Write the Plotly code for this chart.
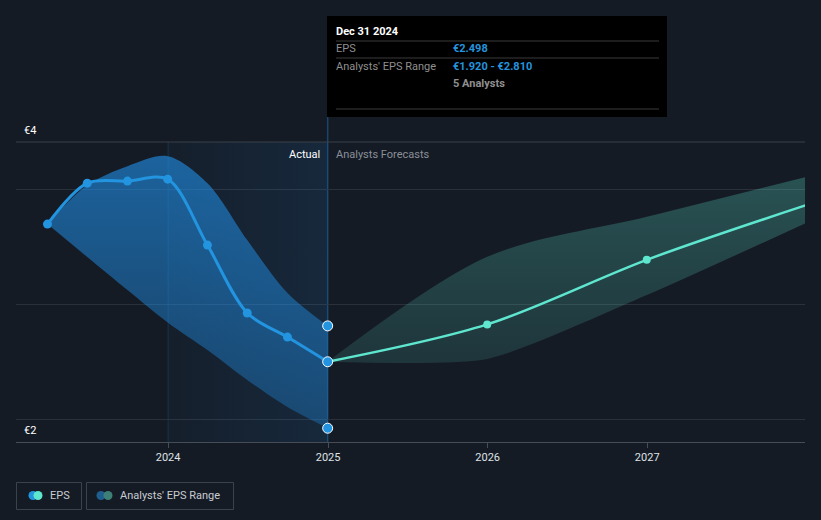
import plotly.graph_objects as go

# ---------------- data ----------------
actual_dates = ["2023-03-31", "2023-06-30", "2023-09-30", "2023-12-31",
                "2024-03-31", "2024-06-30", "2024-09-30", "2024-12-31"]
actual_eps = [3.696, 4.052, 4.070, 4.087, 3.513, 2.922, 2.713, 2.498]
past_range_high = [3.696, 4.035, 4.200, 4.287, 4.052, 3.557, 3.096, 2.810]
past_range_low = [3.696, 3.409, 3.122, 2.840, 2.600, 2.339, 2.104, 1.920]

forecast_dates = ["2024-12-31", "2025-12-31", "2026-12-31", "2027-12-31"]
forecast_eps = [2.498, 2.823, 3.385, 3.861]
forecast_high = [2.498, 3.411, 3.759, 4.107]
forecast_low = [2.498, 2.522, 3.078, 3.707]

n_analysts = 5
tooltip_date = "Dec 31 2024"
tick_years = ["2024-01-01", "2025-01-01", "2026-01-01", "2027-01-01"]
grid_values = [2, 3, 4]
y_label_top = "€4"
y_label_bottom = "€2"

# ---------------- style ----------------
W, H = 821, 520
BG = "#151b25"
BLUE = "#2394DF"
TEAL = "#5EE6CF"
FONT = "Roboto"
Y_RANGE = [1.8, 4.41]
X_RANGE = ["2023-01-18", "2027-12-28"]


def px(x):
    return x / W


def py(y):
    return 1 - y / H


fig = go.Figure()

# highlight of the last twelve months of actuals
hl_start = "2024-01-01"
hl_end = actual_dates[-1]
fig.add_trace(go.Scatter(
    x=[hl_start, hl_end, hl_end, hl_start, hl_start],
    y=[Y_RANGE[0], Y_RANGE[0], Y_RANGE[1], Y_RANGE[1], Y_RANGE[0]],
    mode="lines", line=dict(width=0), fill="toself",
    fillgradient=dict(type="horizontal",
                      colorscale=[[0, "rgba(33,150,243,0.03)"], [1, "rgba(33,150,243,0.11)"]]),
    hoverinfo="skip", showlegend=False))

# past analyst range band
fig.add_trace(go.Scatter(x=actual_dates, y=past_range_low, mode="lines",
                         line=dict(width=0, shape="spline", smoothing=0.8),
                         hoverinfo="skip", showlegend=False))
fig.add_trace(go.Scatter(x=actual_dates, y=past_range_high, mode="lines",
                         line=dict(width=0, shape="spline", smoothing=0.9),
                         fill="tonexty",
                         fillgradient=dict(type="vertical",
                                           colorscale=[[0, "rgba(33,150,243,0.30)"],
                                                       [1, "rgba(33,150,243,0.58)"]]),
                         hoverinfo="skip", showlegend=False))

# forecast range band
fig.add_trace(go.Scatter(x=forecast_dates, y=forecast_low, mode="lines",
                         line=dict(width=0, shape="spline", smoothing=0.6),
                         hoverinfo="skip", showlegend=False))
fig.add_trace(go.Scatter(x=forecast_dates, y=forecast_high, mode="lines",
                         line=dict(width=0, shape="spline", smoothing=0.9),
                         fill="tonexty",
                         fillgradient=dict(type="vertical",
                                           colorscale=[[0, "rgba(94,230,207,0.13)"],
                                                       [1, "rgba(94,230,207,0.27)"]]),
                         hoverinfo="skip", showlegend=False))

# EPS lines
fig.add_trace(go.Scatter(x=forecast_dates, y=forecast_eps, mode="lines+markers",
                         line=dict(color=TEAL, width=2.5, shape="spline", smoothing=0.9),
                         marker=dict(color=TEAL, size=8),
                         hoverinfo="skip", showlegend=False))
fig.add_trace(go.Scatter(x=actual_dates, y=actual_eps, mode="lines+markers",
                         line=dict(color=BLUE, width=3, shape="spline", smoothing=0.9),
                         marker=dict(color=BLUE, size=9),
                         hoverinfo="skip", showlegend=False))

# hover markers at last actual date
fig.add_trace(go.Scatter(x=[actual_dates[-1]] * 3,
                         y=[actual_eps[-1], past_range_high[-1], past_range_low[-1]],
                         mode="markers",
                         marker=dict(color=BLUE, size=10, line=dict(color="#ffffff", width=1)),
                         hoverinfo="skip", showlegend=False, cliponaxis=False))

shapes = []
# top border line of the plot
shapes.append(dict(type="line", xref="paper", yref="paper", x0=px(16), x1=px(805),
                   y0=py(142), y1=py(142), line=dict(color="#3b414b", width=1)))
# vertical line at start of highlight
shapes.append(dict(type="line", xref="x", yref="paper", x0=hl_start, x1=hl_start,
                   y0=py(442), y1=py(142), line=dict(color="rgba(33,150,243,0.18)", width=1),
                   layer="below"))
# hover line
shapes.append(dict(type="line", xref="x", yref="paper", x0=hl_end, x1=hl_end,
                   y0=py(442), y1=py(117), line=dict(color="rgba(33,150,243,0.35)", width=1.5),
                   layer="below"))
# tooltip box
shapes.append(dict(type="rect", xref="paper", yref="paper", x0=px(327), x1=px(667),
                   y0=py(117), y1=py(16), fillcolor="#000000", line=dict(width=0)))
for yy in (41, 58, 109):
    shapes.append(dict(type="line", xref="paper", yref="paper", x0=px(336), x1=px(659),
                       y0=py(yy), y1=py(yy), line=dict(color="#3a3a3a", width=1)))
# legend boxes
shapes.append(dict(type="rect", xref="paper", yref="paper", x0=px(16.5), x1=px(81.5),
                   y0=py(509.5), y1=py(482.5), line=dict(color="#3c424c", width=1),
                   fillcolor="rgba(0,0,0,0)"))
shapes.append(dict(type="rect", xref="paper", yref="paper", x0=px(86.5), x1=px(233.5),
                   y0=py(509.5), y1=py(482.5), line=dict(color="#3c424c", width=1),
                   fillcolor="rgba(0,0,0,0)"))
for cx, col in ((33, BLUE), (38, TEAL), (101, "#1f5f8f"), (108, "#3e7f78")):
    shapes.append(dict(type="circle", xref="paper", yref="paper",
                       x0=px(cx - 4.5), x1=px(cx + 4.5), y0=py(500), y1=py(491),
                       fillcolor=col, line=dict(width=0)))

ann = []


def text(x, y, s, color, size=11, anchor="left", bold=False):
    # compensate the 2px annotation padding
    xx = x - 2 if anchor == "left" else x + 2
    ann.append(dict(xref="paper", yref="paper", x=px(xx), y=py(y), text=f"<b>{s}</b>" if bold else s,
                    showarrow=False, xanchor=anchor, yanchor="middle",
                    font=dict(family=FONT, size=size, color=color)))


text(24, 130, y_label_top, "#ffffff")
text(24, 430, y_label_bottom, "#ffffff")
text(320, 154, "Actual", "#ffffff", anchor="right")
text(336, 154, "Analysts Forecasts", "#8a8f98")
text(336, 31, tooltip_date, "#ffffff", bold=True)
text(336, 48, "EPS", "#8f8f8f")
text(453, 48, f"€{actual_eps[-1]:.3f}", BLUE, bold=True)
text(336, 66, "Analysts' EPS Range", "#8f8f8f")
text(453, 66, f"€{past_range_low[-1]:.3f} - €{past_range_high[-1]:.3f}", BLUE, bold=True)
text(453, 83, f"{n_analysts} Analysts", "#8f8f8f", bold=True)
text(50, 495, "EPS", "#c8ccd2")
text(120, 495, "Analysts' EPS Range", "#c8ccd2")

fig.update_layout(
    width=W, height=H, autosize=False,
    margin=dict(l=0, r=0, t=0, b=0),
    paper_bgcolor=BG, plot_bgcolor=BG,
    showlegend=False,
    shapes=shapes, annotations=ann,
    font=dict(family=FONT, color="#ffffff"),
    xaxis=dict(domain=[px(16), px(805)], type="date", range=X_RANGE,
               tickvals=tick_years, tickformat="%Y", showgrid=False, zeroline=False,
               showline=True, linecolor="#474d57", linewidth=1,
               ticks="outside", ticklen=5, tickcolor="#474d57",
               tickfont=dict(family=FONT, size=11, color="#dfe2e6")),
    yaxis=dict(domain=[py(442), py(142)], range=Y_RANGE, tickvals=grid_values,
               showticklabels=False, showgrid=True, gridcolor="#2a313b", gridwidth=1,
               zeroline=False, showline=False),
)

fig.write_html("out.html",
               config=dict(displayModeBar=False),
               post_script="document.body.style.margin='0';document.body.style.background='%s';" % BG)
